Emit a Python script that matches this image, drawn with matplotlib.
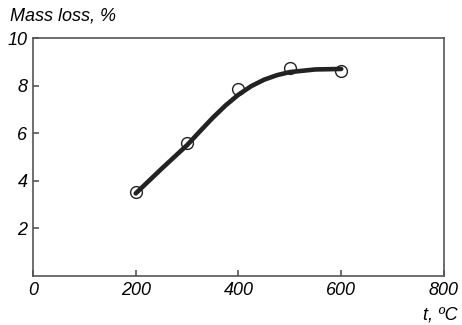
import matplotlib.pyplot as plt

# measured points
temp = [200, 300, 400, 500, 600]
loss = [3.54, 5.57, 7.84, 8.75, 8.61]

# smoothed curve
curve_t = [200, 250, 300, 325, 350, 375, 400, 425, 450, 475, 500, 550, 600]
curve_loss = [3.47, 4.5, 5.5, 6.08, 6.65, 7.17, 7.62, 7.98, 8.25, 8.44, 8.57, 8.68, 8.7]

xticks = [0, 200, 400, 600, 800]
yticks = [2, 4, 6, 8, 10]

plt.rcParams['font.family'] = ['Liberation Sans', 'DejaVu Sans']
plt.rcParams['font.style'] = 'italic'

fig = plt.figure(figsize=(4.62, 3.25), dpi=100)
ax = fig.add_axes([0.0714, 0.1508, 0.8896, 0.7322])

ax.plot(curve_t, curve_loss, color='#222222', lw=3.3, solid_capstyle='round',
        solid_joinstyle='round', zorder=2)
ax.plot(temp, loss, 'o', mfc='none', mec='#222222', ms=8.5, mew=1.0, zorder=3)

ax.set_xlim(0, 800)
ax.set_ylim(0, 10)
ax.set_xticks(xticks)
ax.set_yticks(yticks)
ax.tick_params(direction='in', length=4, width=1.2, color='#555555',
               labelsize=13, pad=4)
for s in ax.spines.values():
    s.set_color('#555555')
    s.set_linewidth(1.2)

fig.text(0.022, 0.951, 'Mass loss, %', fontsize=13, va='center', ha='left')
fig.text(0.991, 0.031, 't, ºC', fontsize=13, va='center', ha='right')

fig.savefig('out.png', dpi=100)
